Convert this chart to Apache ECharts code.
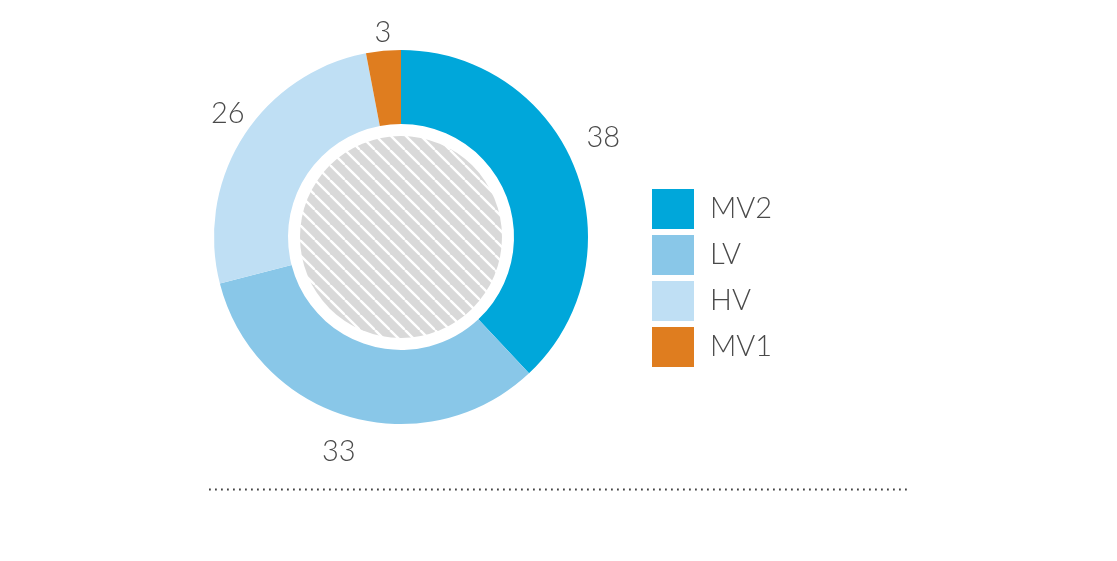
<!DOCTYPE html>
<html>
<head>
<meta charset="utf-8">
<script src="https://cdn.jsdelivr.net/npm/echarts@6/dist/echarts.min.js"></script>
<style>
  html, body { margin: 0; padding: 0; background: #fff; }
  #chart { width: 1117px; height: 561px; }
</style>
</head>
<body>
<div id="chart"></div>
<script>
// data
var categories = ['MV2', 'LV', 'HV', 'MV1'];
var values = [38, 33, 26, 3];
var colors = ['#00a7da', '#89c7e8', '#bfdff4', '#df7d1f'];

// small nudges of the value labels off the slice bisector, px [dx, dy]
var labelNudge = [[-5, -17], [0, 0], [15, -4], [3, 18]];

var FONT = 'Lato';
var TEXT = '#4a4a4a';

// hatch pattern for the core circle
function hatch() {
  var c = document.createElement('canvas');
  var s = 15;
  c.width = s; c.height = s;
  var g = c.getContext('2d');
  g.fillStyle = '#d9d9d9';
  g.fillRect(0, 0, s, s);
  g.strokeStyle = '#ffffff';
  g.lineWidth = 2.4;
  for (var k = -1; k <= 1; k++) {
    g.beginPath();
    g.moveTo(k * s, 0);
    g.lineTo(k * s + s, s);
    g.stroke();
  }
  return c;
}

var pieData = categories.map(function (name, i) {
  return { name: name, value: values[i], itemStyle: { color: colors[i] } };
});

var chart = echarts.init(document.getElementById('chart'));

var option = {
  animation: false,
  legend: {
    orient: 'vertical',
    left: 647,
    top: 184,
    itemWidth: 42,
    itemHeight: 40,
    itemGap: 6,
    icon: 'rect',
    selectedMode: false,
    data: categories,
    textStyle: {
      fontFamily: FONT,
      fontWeight: 300,
      fontSize: 29,
      color: TEXT,
      padding: [0, 0, 0, 11]
    }
  },
  series: [
    {
      // donut
      type: 'pie',
      center: [401, 237],
      radius: [113, 187],
      startAngle: 90,
      silent: true,
      label: { show: false },
      labelLine: { show: false },
      data: pieData
    },
    {
      // value labels placed along each slice bisector
      type: 'pie',
      center: [401, 237],
      radius: [198, 242],
      startAngle: 90,
      silent: true,
      itemStyle: { color: 'rgba(0,0,0,0)' },
      label: {
        show: true,
        position: 'inside',
        formatter: '{c}',
        fontFamily: FONT,
        fontWeight: 300,
        fontSize: 29,
        color: TEXT
      },
      labelLine: { show: false },
      labelLayout: function (p) {
        var n = labelNudge[p.dataIndex];
        return { dx: n[0], dy: n[1] };
      },
      data: categories.map(function (name, i) {
        return { name: name + ' ', value: values[i] };
      })
    },
    {
      // hatched core
      type: 'pie',
      center: [401, 237],
      radius: [0, 101],
      silent: true,
      label: { show: false },
      labelLine: { show: false },
      itemStyle: { color: { image: hatch(), repeat: 'repeat' } },
      data: [{ name: 'core', value: 1 }]
    }
  ],
  graphic: [
    {
      type: 'line',
      shape: { x1: 209, y1: 489.5, x2: 910, y2: 489.5 },
      style: { stroke: '#444', lineWidth: 1.8, lineDash: [1.8, 4.2] },
      silent: true
    }
  ]
};

chart.setOption(option);
</script>
</body>
</html>
